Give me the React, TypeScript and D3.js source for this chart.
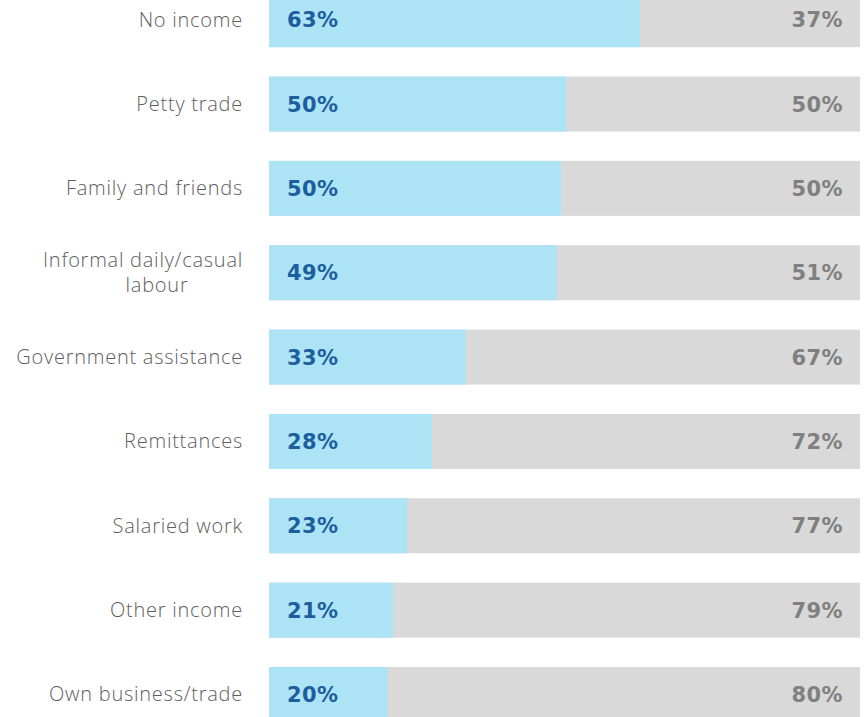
import React, { useRef, useEffect } from 'react';
import * as d3 from 'd3';

const categories = [
  'No income',
  'Petty trade',
  'Family and friends',
  'Informal daily/casual labour',
  'Government assistance',
  'Remittances',
  'Salaried work',
  'Other income',
  'Own business/trade',
];
// share reporting the income source (blue part)
const yesValues = [62.8, 50.3, 49.4, 48.7, 33.3, 27.6, 23.4, 21.0, 20.1];
const yesLabels = ['63%', '50%', '50%', '49%', '33%', '28%', '23%', '21%', '20%'];
const noLabels = ['37%', '50%', '50%', '51%', '67%', '72%', '77%', '79%', '80%'];

// label lines for wrapped categories
const labelLines: Record<string, string[]> = {
  'Informal daily/casual labour': ['Informal daily/casual', 'labour'],
};

const W = 864;
const H = 717;

const App: React.FC = () => {
  const ref = useRef<SVGSVGElement>(null);

  useEffect(() => {
    if (!ref.current) return;
    const svg = d3.select(ref.current);
    svg.selectAll('*').remove();

    const x = d3.scaleLinear().domain([0, 100]).range([269, 860]);
    const y = d3.scalePoint<string>().domain(categories).range([19.7, 694.5]);
    const barH = 55;

    const rows = svg.selectAll('g.row')
      .data(categories)
      .enter()
      .append('g')
      .attr('class', 'row')
      .attr('transform', d => `translate(0,${y(d)})`);

    // grey remainder
    rows.append('rect')
      .attr('x', x(0))
      .attr('y', -barH / 2)
      .attr('width', x(100) - x(0))
      .attr('height', barH)
      .attr('fill', '#d9d9d9');

    // blue share
    rows.append('rect')
      .attr('x', x(0))
      .attr('y', -barH / 2)
      .attr('width', (d, i) => x(yesValues[i]) - x(0))
      .attr('height', barH)
      .attr('fill', '#ade4f5');

    rows.append('text')
      .attr('x', x(0) + 18)
      .attr('y', 0)
      .attr('dy', '0.36em')
      .attr('font-family', '"DejaVu Sans", sans-serif')
      .attr('font-weight', 700)
      .attr('font-size', 21)
      .attr('letter-spacing', 0.4)
      .attr('fill', '#1c5e9e')
      .text((d, i) => yesLabels[i]);

    rows.append('text')
      .attr('x', x(100) - 17)
      .attr('y', 0)
      .attr('dy', '0.36em')
      .attr('text-anchor', 'end')
      .attr('font-family', '"DejaVu Sans", sans-serif')
      .attr('font-weight', 700)
      .attr('font-size', 21)
      .attr('letter-spacing', 0.4)
      .attr('fill', '#808080')
      .text((d, i) => noLabels[i]);

    // category labels
    rows.each(function (d) {
      const g = d3.select(this);
      const lines = labelLines[d] || [d];
      const lh = 25;
      lines.forEach((line, j) => {
        const t = g.append('text')
          .attr('y', (j - (lines.length - 1) / 2) * lh)
          .attr('dy', '0.34em')
          .attr('font-family', '"Open Sans", sans-serif')
          .attr('font-weight', 300)
          .attr('font-size', 20)
          .attr('letter-spacing', 0.75)
          .attr('fill', '#5e5e5e')
          .text(line);
        if (j > 0) t.attr('x', 157).attr('text-anchor', 'middle');
        else t.attr('x', 243).attr('text-anchor', 'end');
      });
    });
  }, []);

  return (
    <svg
      ref={ref}
      width={W}
      height={H}
      style={{ position: 'fixed', left: 0, top: 0, background: '#fff' }}
    />
  );
};

export default App;
